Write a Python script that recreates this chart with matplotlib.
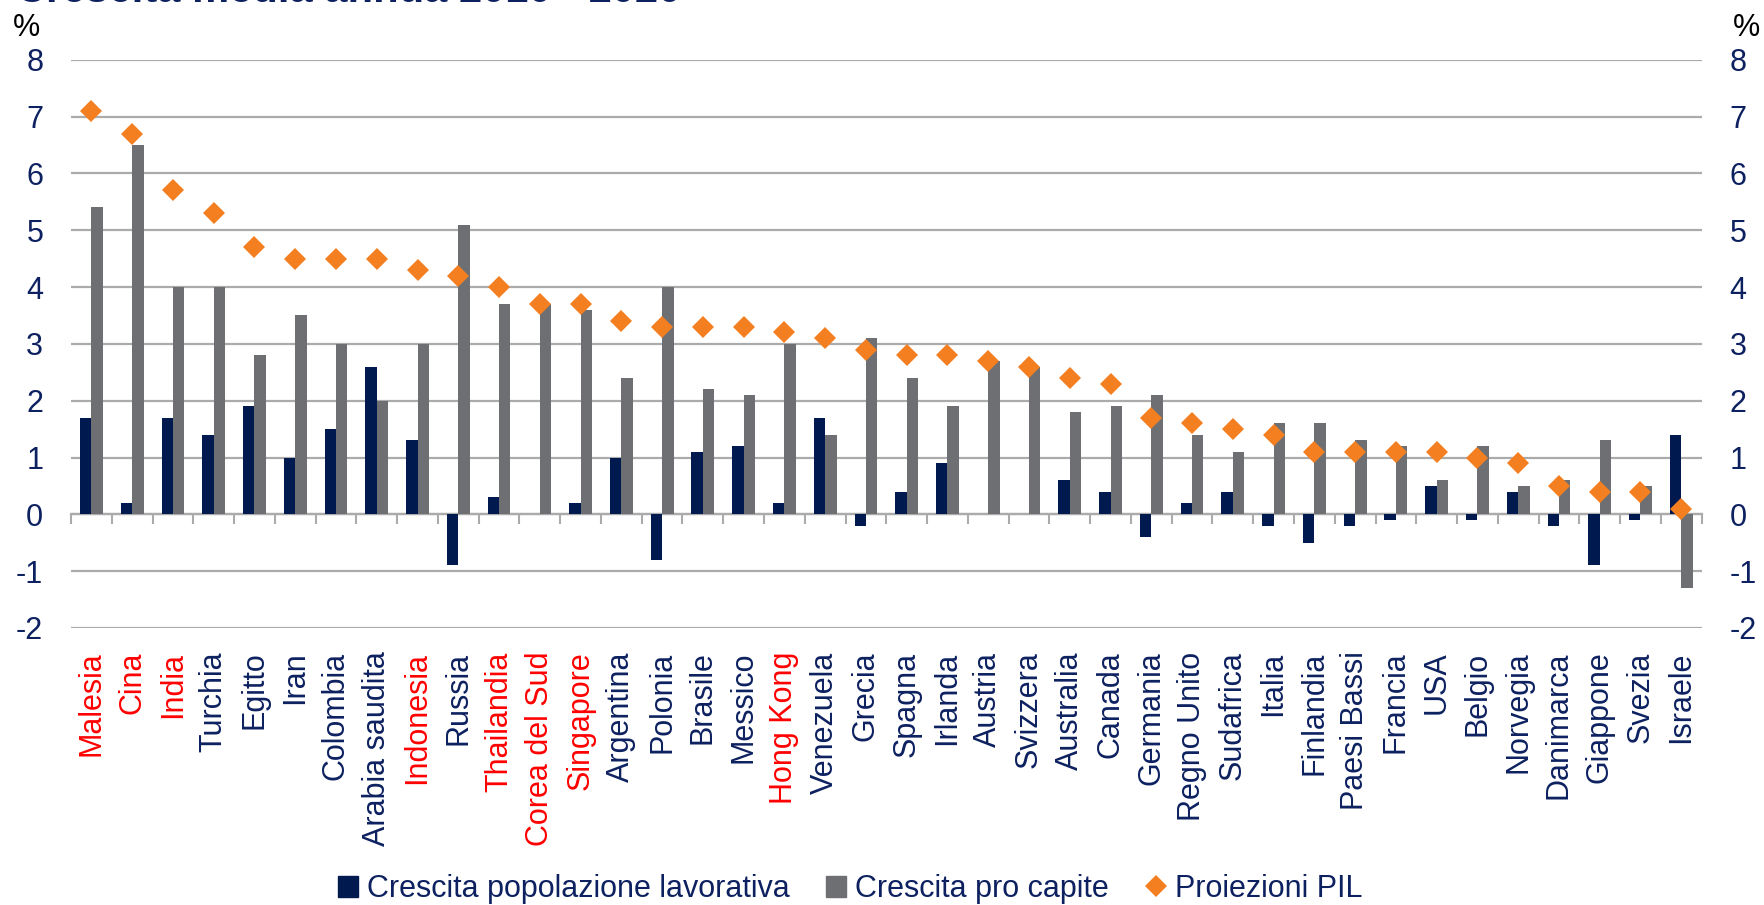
import matplotlib
matplotlib.use("Agg")
import matplotlib.pyplot as plt
from matplotlib.patches import Rectangle
from matplotlib.lines import Line2D
import numpy as np

plt.rcParams["font.family"] = ["Liberation Sans", "DejaVu Sans"]
plt.rcParams["axes.unicode_minus"] = False

# --- data -------------------------------------------------------------
countries = ["Malesia", "Cina", "India", "Turchia", "Egitto", "Iran", "Colombia",
             "Arabia saudita", "Indonesia", "Russia", "Thailandia", "Corea del Sud",
             "Singapore", "Argentina", "Polonia", "Brasile", "Messico", "Hong Kong",
             "Venezuela", "Grecia", "Spagna", "Irlanda", "Austria", "Svizzera",
             "Australia", "Canada", "Germania", "Regno Unito", "Sudafrica", "Italia",
             "Finlandia", "Paesi Bassi", "Francia", "USA", "Belgio", "Norvegia",
             "Danimarca", "Giappone", "Svezia", "Israele"]

highlighted = ["Malesia", "Cina", "India", "Indonesia", "Thailandia",
               "Corea del Sud", "Singapore", "Hong Kong"]

working_pop_growth = [1.7, 0.2, 1.7, 1.4, 1.9, 1.0, 1.5, 2.6, 1.3, -0.9,
                      0.3, 0.0, 0.2, 1.0, -0.8, 1.1, 1.2, 0.2, 1.7, -0.2,
                      0.4, 0.9, 0.0, 0.0, 0.6, 0.4, -0.4, 0.2, 0.4, -0.2,
                      -0.5, -0.2, -0.1, 0.5, -0.1, 0.4, -0.2, -0.9, -0.1, 1.4]

per_capita_growth = [5.4, 6.5, 4.0, 4.0, 2.8, 3.5, 3.0, 2.0, 3.0, 5.1,
                     3.7, 3.7, 3.6, 2.4, 4.0, 2.2, 2.1, 3.0, 1.4, 3.1,
                     2.4, 1.9, 2.7, 2.6, 1.8, 1.9, 2.1, 1.4, 1.1, 1.6,
                     1.6, 1.3, 1.2, 0.6, 1.2, 0.5, 0.6, 1.3, 0.5, -1.3]

gdp_projection = [7.1, 6.7, 5.7, 5.3, 4.7, 4.5, 4.5, 4.5, 4.3, 4.2,
                  4.0, 3.7, 3.7, 3.4, 3.3, 3.3, 3.3, 3.2, 3.1, 2.9,
                  2.8, 2.8, 2.7, 2.6, 2.4, 2.3, 1.7, 1.6, 1.5, 1.4,
                  1.1, 1.1, 1.1, 1.1, 1.0, 0.9, 0.5, 0.4, 0.4, 0.1]

y_ticks = [-2, -1, 0, 1, 2, 3, 4, 5, 6, 7, 8]

legend_labels = ["Crescita popolazione lavorativa", "Crescita pro capite", "Proiezioni PIL"]
title_text = "Crescita media annua 2010 - 2020"

# --- style ------------------------------------------------------------
NAVY = "#001A50"
GREY_BAR = "#6D6F73"
ORANGE = "#F47F20"
TEXT_NAVY = "#0D2160"
RED = "#FF0000"
GRID = "#ABABAB"
FS = 22

fig = plt.figure(figsize=(17.64, 9.05), dpi=100)
ax = fig.add_axes([0.04025, 0.3061, 0.9244, 0.6279])

x = np.arange(len(countries))
w = 0.28
ax.bar(x - w / 2, working_pop_growth, width=w, color=NAVY, zorder=2)
ax.bar(x + w / 2, per_capita_growth, width=w, color=GREY_BAR, zorder=2)
ax.plot(x, gdp_projection, linestyle="none", marker="D", markersize=11,
        color=ORANGE, markeredgewidth=0, zorder=4)

ymin, ymax = y_ticks[0], y_ticks[-1]
ax.set_ylim(ymin, ymax)
ax.set_xlim(-0.5, len(countries) - 0.5)

# horizontal grid
ax.set_yticks(y_ticks)
ax.yaxis.grid(True, color=GRID, linewidth=1.6, zorder=0)
ax.set_axisbelow(True)
for s in ax.spines.values():
    s.set_visible(False)

ax.tick_params(axis="y", length=0, labelsize=FS, labelcolor=TEXT_NAVY,
               left=False, right=False, labelleft=True, labelright=True, pad=20)
for lab in ax.get_yticklabels(which="major"):
    pass
ax.yaxis.set_tick_params(which="major", labelright=True)

# category labels along the bottom
ax.set_xticks(x)
ax.set_xticklabels(countries, rotation=90, fontsize=FS)
ax.tick_params(axis="x", length=0, pad=17)
for lab in ax.get_xticklabels():
    lab.set_color(RED if lab.get_text() in highlighted else TEXT_NAVY)

# category axis line with tick marks sitting at zero
zero_frac = (0 - ymin) / (ymax - ymin)
sec = ax.secondary_xaxis(zero_frac)
sec.set_xticks(np.arange(len(countries) + 1) - 0.5)
sec.tick_params(axis="x", direction="out", length=7, width=1.5, color=GRID,
                labelbottom=False, labeltop=False)
sec.spines["bottom"].set_color(GRID)
sec.spines["bottom"].set_linewidth(1.6)
for k in ("top", "left", "right"):
    sec.spines[k].set_visible(False)

# unit labels
fig.text(13 / 1764, 1 - 36 / 905, "%", fontsize=FS, color="black", va="baseline", ha="left")
fig.text(1733 / 1764, 1 - 36 / 905, "%", fontsize=FS, color="black", va="baseline", ha="left")

# title, clipped at the top edge
fig.text(16 / 1764, 1 - 1.5 / 905, title_text, fontsize=30, fontweight="bold",
         color=TEXT_NAVY, va="baseline", ha="left")

# legend
handles = [Rectangle((0, 0), 1, 1, color=NAVY),
           Rectangle((0, 0), 1, 1, color=GREY_BAR),
           Line2D([], [], linestyle="none", marker="D", markersize=11,
                  color=ORANGE, markeredgewidth=0)]
fig.legend(handles, legend_labels, loc="center", ncol=3, frameon=False,
           bbox_to_anchor=(850 / 1764, 1 - 889 / 905), fontsize=FS,
           labelcolor=TEXT_NAVY, handlelength=0.65, handleheight=0.7,
           handletextpad=0.3, columnspacing=1.2, borderpad=0, borderaxespad=0)

fig.savefig("out.png", dpi=100)
